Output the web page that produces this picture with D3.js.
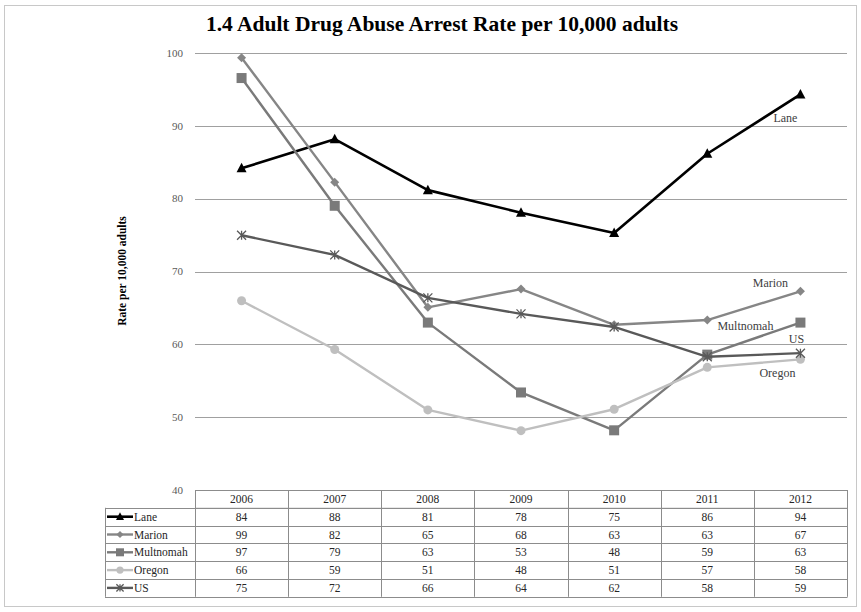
<!DOCTYPE html>
<html><head><meta charset="utf-8">
<script src="https://cdn.jsdelivr.net/npm/d3@7"></script>
<style>
html,body{margin:0;padding:0;background:#fff;}
svg, svg text{font-family:"Liberation Serif","DejaVu Serif",serif;}
</style></head>
<body>
<svg id="chart" width="861" height="612"></svg>
<script>
const years = ["2006","2007","2008","2009","2010","2011","2012"];
const seriesNames = ["Lane","Marion","Multnomah","Oregon","US"];
const lane      = [84.2, 88.2, 81.2, 78.1, 75.3, 86.2, 94.35];
const marion    = [99.4, 82.3, 65.1, 67.6, 62.7, 63.35, 67.3];
const multnomah = [96.6, 79.05, 63.0, 53.4, 48.2, 58.6, 63.0];
const oregon    = [66.0, 59.3, 51.0, 48.15, 51.1, 56.85, 57.95];
const us        = [75.0, 72.3, 66.4, 64.2, 62.4, 58.3, 58.8];
const yTicks = [40, 50, 60, 70, 80, 90, 100];
const title = "1.4 Adult Drug Abuse Arrest Rate per 10,000 adults";
const yTitle = "Rate per 10,000 adults";

const seriesValues = [lane, marion, multnomah, oregon, us];
const styles = {
  Lane:      {color:"#000000", marker:"triangle", w:2.6, lab:[-15, 28]},
  Marion:    {color:"#868686", marker:"diamond",  w:2.4, lab:[-30, -4]},
  Multnomah: {color:"#7a7a7a", marker:"square",   w:2.4, lab:[-55, 7]},
  Oregon:    {color:"#bfbfbf", marker:"circle",   w:2.4, lab:[-23, 18]},
  US:        {color:"#595959", marker:"star",     w:2.4, lab:[-4, -10]}
};
const series = seriesNames.map((n,i)=>({name:n, values:seriesValues[i]}));
const FONT = "Liberation Serif, DejaVu Serif, serif";

const svg = d3.select("#chart");
svg.append("rect").attr("x",4.5).attr("y",5.5).attr("width",852).attr("height",601)
  .attr("fill","#fff").attr("stroke","#c8c8c8").attr("stroke-width",1);

const plotLeft = 195, plotRight = 847, plotTop = 53.3, plotBottom = 490;
const x = d3.scaleBand().domain(years).range([plotLeft, plotRight]);
const y = d3.scaleLinear().domain([40,100]).range([plotBottom, plotTop]);
const cx = d => x(d) + x.bandwidth()/2;

svg.append("g").selectAll("line").data(yTicks.filter(t=>t>40)).join("line")
  .attr("x1",plotLeft).attr("x2",plotRight)
  .attr("y1",d=>Math.round(y(d))+0.5).attr("y2",d=>Math.round(y(d))+0.5)
  .attr("stroke","#a0a0a0").attr("stroke-width",1);

svg.append("g").selectAll("text").data(yTicks).join("text")
  .attr("x",183).attr("y",d=>y(d)).attr("dy","0.32em")
  .attr("text-anchor","end").attr("font-size",11).attr("fill","#595959")
  .attr("font-family",FONT).text(d=>d);

svg.append("text").attr("transform","translate(126,271) rotate(-90)")
  .attr("text-anchor","middle").attr("font-size",11.5).attr("font-weight","bold")
  .attr("font-family",FONT).attr("fill","#000").text(yTitle);

svg.append("text").attr("x",442).attr("y",31).attr("text-anchor","middle")
  .attr("font-size",21.5).attr("font-weight","bold").attr("font-family",FONT)
  .attr("fill","#000").text(title);

function drawMarker(g, type, color, px, py, size){
  const s = size;
  if(type==="triangle"){
    g.append("path").attr("d",`M0,${-s*0.55}L${s/2},${s*0.4}L${-s/2},${s*0.4}Z`)
      .attr("transform",`translate(${px},${py})`).attr("fill",color);
  } else if(type==="diamond"){
    g.append("path").attr("d",`M0,${-s/2}L${s/2},0L0,${s/2}L${-s/2},0Z`)
      .attr("transform",`translate(${px},${py})`).attr("fill",color);
  } else if(type==="square"){
    g.append("rect").attr("x",px-s/2).attr("y",py-s/2).attr("width",s).attr("height",s).attr("fill",color);
  } else if(type==="circle"){
    g.append("circle").attr("cx",px).attr("cy",py).attr("r",s/2).attr("fill",color);
  } else if(type==="star"){
    const h=s/2;
    g.append("path").attr("d",`M${-h},${-h}L${h},${h}M${-h},${h}L${h},${-h}M0,${-h}L0,${h}`)
      .attr("transform",`translate(${px},${py})`).attr("stroke",color).attr("stroke-width",1.3).attr("fill","none");
  }
}
const markerSize = {triangle:10, diamond:9, square:10, circle:9, star:9};

const line = d3.line().x((d,i)=>cx(years[i])).y(d=>y(d));
const gLines = svg.append("g");
series.forEach(s=>{
  const st = styles[s.name];
  const g = gLines.append("g");
  g.append("path").attr("d",line(s.values)).attr("fill","none")
    .attr("stroke",st.color).attr("stroke-width",st.w).attr("stroke-linejoin","round");
  s.values.forEach((v,i)=>drawMarker(g, st.marker, st.color, cx(years[i]), y(v), markerSize[st.marker]));
  const lastX = cx(years[years.length-1]), lastY = y(s.values[s.values.length-1]);
  g.append("text").attr("x",lastX+st.lab[0]).attr("y",lastY+st.lab[1])
    .attr("text-anchor","middle").attr("font-size",12).attr("font-family",FONT)
    .attr("fill","#404040").text(s.name);
});

const tTop = 490, rowH = 17.8, labLeft = 105;
const tg = svg.append("g");
const border = "#8c8c8c";
tg.append("rect").attr("x",plotLeft+0.5).attr("y",tTop+0.5).attr("width",plotRight-plotLeft).attr("height",rowH)
  .attr("fill","none").attr("stroke",border);
years.forEach(yr=>{
  tg.append("line").attr("x1",Math.round(x(yr))+0.5).attr("x2",Math.round(x(yr))+0.5)
    .attr("y1",tTop).attr("y2",tTop+rowH*6).attr("stroke",border);
  tg.append("text").attr("x",cx(yr)).attr("y",tTop+rowH/2).attr("dy","0.35em")
    .attr("text-anchor","middle").attr("font-size",11.5).attr("font-family",FONT)
    .attr("fill","#262626").text(yr);
});
tg.append("line").attr("x1",plotRight+0.5).attr("x2",plotRight+0.5).attr("y1",tTop).attr("y2",tTop+rowH*6).attr("stroke",border);
series.forEach((s,r)=>{
  const ry = tTop + rowH*(r+1);
  const st = styles[s.name];
  tg.append("line").attr("x1",labLeft).attr("x2",plotRight+0.5).attr("y1",Math.round(ry)+0.5).attr("y2",Math.round(ry)+0.5).attr("stroke",border);
  const ky = ry + rowH/2;
  tg.append("line").attr("x1",107).attr("x2",133).attr("y1",ky).attr("y2",ky).attr("stroke",st.color).attr("stroke-width",st.w);
  drawMarker(tg, st.marker, st.color, 120, ky, markerSize[st.marker]*0.8);
  tg.append("text").attr("x",134).attr("y",ky).attr("dy","0.35em").attr("font-size",11.5)
    .attr("font-family",FONT).attr("fill","#262626").text(s.name);
  s.values.forEach((v,i)=>{
    tg.append("text").attr("x",cx(years[i])).attr("y",ky).attr("dy","0.35em")
      .attr("text-anchor","middle").attr("font-size",11.5).attr("font-family",FONT)
      .attr("fill","#262626").text(d3.format(".0f")(v));
  });
});
const bottom = tTop + rowH*6;
tg.append("line").attr("x1",labLeft).attr("x2",plotRight+0.5).attr("y1",Math.round(bottom)+0.5).attr("y2",Math.round(bottom)+0.5).attr("stroke",border);
tg.append("line").attr("x1",labLeft+0.5).attr("x2",labLeft+0.5).attr("y1",tTop+rowH).attr("y2",bottom).attr("stroke",border);
</script>
</body></html>
